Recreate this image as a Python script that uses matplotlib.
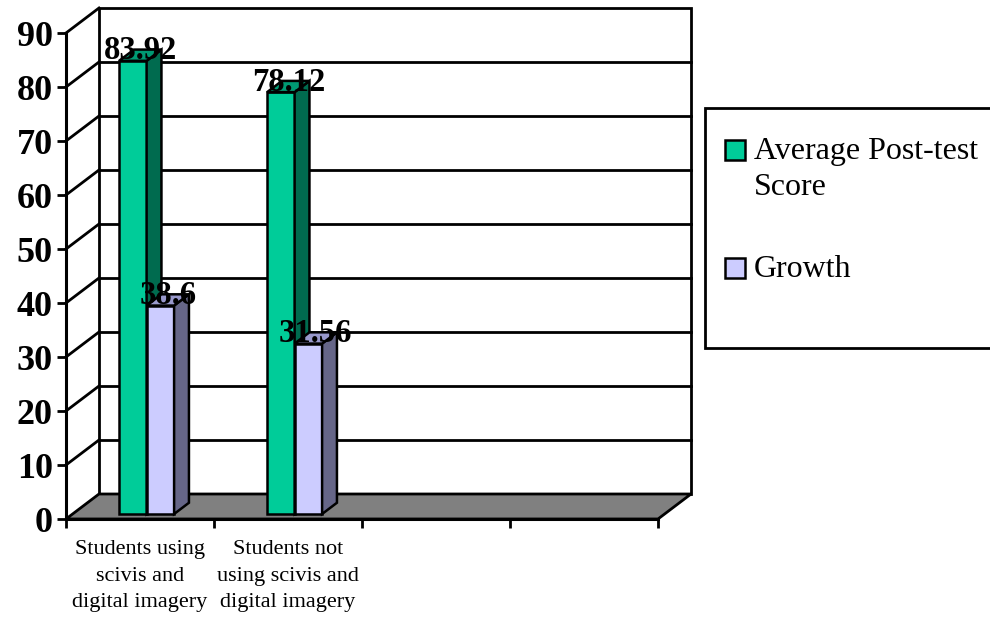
import matplotlib
matplotlib.use("Agg")
import matplotlib.pyplot as plt
from matplotlib.patches import Polygon, Rectangle

plt.rcParams['font.family'] = ['Liberation Serif', 'DejaVu Serif']

# data
categories = ["Students using\nscivis and\ndigital imagery",
              "Students not\nusing scivis and\ndigital imagery", "", ""]
series_names = ["Average Post-test\nScore", "Growth"]
post_test = [83.92, 78.12]
growth = [38.6, 31.56]
yticks = [0, 10, 20, 30, 40, 50, 60, 70, 80, 90]

# colours: front, side, top
green = ('#00CC99', '#006B4F', '#009973')
lilac = ('#CCCCFF', '#666688', '#9999CC')

W, H = 990, 622
fig = plt.figure(figsize=(W / 100, H / 100), dpi=100)
# front plane of the chart (pixels -> fig fraction)
x0, x1, yb, yt = 66, 658, 519, 33
ax = fig.add_axes([x0 / W, 1 - yb / H, (x1 - x0) / W, (yb - yt) / H])
ax.set_xlim(0, len(categories))
ax.set_ylim(0, 90)

# depth vector in data units (33 px right, 25 px up)
DX = 33 / ((x1 - x0) / len(categories))
DY = 25 / ((yb - yt) / 90)


def P(x, v, f):
    return (x + f * DX, v + f * DY)


n = len(categories)
# back wall
ax.add_patch(Polygon([P(0, 0, 1), P(n, 0, 1), P(n, 90, 1), P(0, 90, 1)],
                     closed=True, fc='white', ec='black', lw=2, clip_on=False, zorder=1))
for v in yticks[1:-1]:
    xs, ys = zip(P(0, v, 1), P(n, v, 1))
    ax.plot(xs, ys, color='black', lw=2, clip_on=False, zorder=1)
# left wall diagonals
for v in yticks[1:]:
    xs, ys = zip(P(0, v, 0), P(0, v, 1))
    ax.plot(xs, ys, color='black', lw=2, clip_on=False, zorder=1)
# floor
ax.add_patch(Polygon([P(0, 0, 0), P(n, 0, 0), P(n, 0, 1), P(0, 0, 1)],
                     closed=True, fc='#808080', ec='black', lw=2, clip_on=False, zorder=2))

bw = 27.5 / ((x1 - x0) / n)
f0, f1 = 0.2, 0.65


def bar3d(xa, xb, v, cols):
    front = [P(xa, 0, f0), P(xb, 0, f0), P(xb, v, f0), P(xa, v, f0)]
    side = [P(xb, 0, f0), P(xb, 0, f1), P(xb, v, f1), P(xb, v, f0)]
    top = [P(xa, v, f0), P(xb, v, f0), P(xb, v, f1), P(xa, v, f1)]
    for poly, c in ((front, cols[0]), (side, cols[1]), (top, cols[2])):
        ax.add_patch(Polygon(poly, closed=True, fc=c, ec='black', lw=1.8,
                             clip_on=False, zorder=3))
    lx, ly = P((xa + xb) / 2, v, (f0 + f1) / 2)
    ax.text(lx, ly + 0.8, f"{v:g}", ha='center', va='center', fontsize=23.5,
            fontweight='bold', zorder=5, clip_on=False)


for i in range(len(post_test)):
    c = i + 0.5
    bar3d(c - bw, c, post_test[i], green)
    bar3d(c, c + bw, growth[i], lilac)

# axes
for s in ('top', 'right'):
    ax.spines[s].set_visible(False)
for s in ('left', 'bottom'):
    ax.spines[s].set_linewidth(2.2)
    ax.spines[s].set_zorder(4)
ax.set_yticks(yticks)
ax.set_yticklabels([str(t) for t in yticks], fontsize=26, fontweight='bold')
ax.tick_params(axis='y', length=6.5, width=2, pad=3)
ax.set_xticks(range(n + 1))
ax.set_xticklabels([])
ax.set_xticks([i + 0.5 for i in range(n)], minor=True)
ax.set_xticklabels(categories, minor=True, fontsize=16, linespacing=1.55)
ax.tick_params(axis='x', which='major', length=6.5, width=2)
ax.tick_params(axis='x', which='minor', length=0, pad=15)

# legend
fig.patches.append(Rectangle((705 / W, 1 - 348 / H), 300 / W, 240 / H,
                             transform=fig.transFigure, fc='white', ec='black', lw=2))
leg_y = [150, 268]
for name, cols, y in zip(series_names, (green, lilac), leg_y):
    fig.patches.append(Rectangle((725 / W, 1 - (y + 10) / H), 20 / W, 20 / H,
                                 transform=fig.transFigure, fc=cols[0], ec='black', lw=1.8))
    fig.text(754 / W, 1 - (y - 13) / H, name, ha='left', va='top', fontsize=23,
             linespacing=1.3)

fig.savefig('out.png', dpi=100)
